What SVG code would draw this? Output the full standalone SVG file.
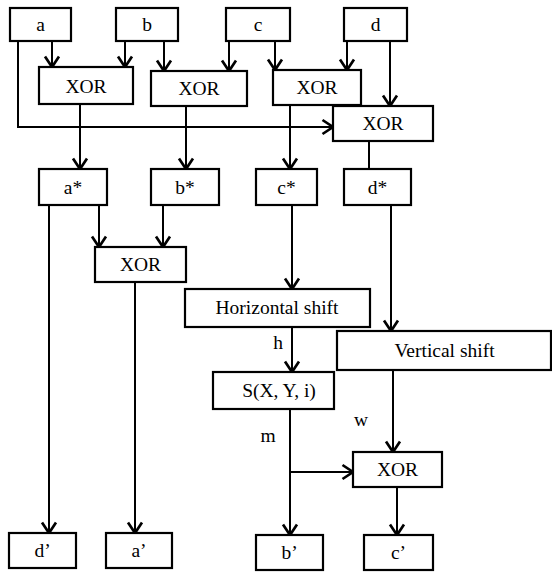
<svg xmlns="http://www.w3.org/2000/svg" width="552" height="573" viewBox="0 0 552 573">
<style>
.box{fill:#fff;stroke:#000;stroke-width:2.2}
.ln{fill:none;stroke:#000;stroke-width:2}
.t{font-family:"Liberation Serif","Times New Roman",serif;font-size:19.5px;fill:#000;text-anchor:middle}
</style>
<defs>
<marker id="ah" markerUnits="userSpaceOnUse" markerWidth="16" markerHeight="18" viewBox="-13 -9 15 18" refX="0" refY="0" orient="auto">
<path d="M-10.5,-7 L0,0 L-10.5,7" fill="none" stroke="#000" stroke-width="2.7"/>
</marker>
</defs>
<rect width="552" height="573" fill="#fff"/>
<g id="connectors">
<path class="ln" d="M52,41 V67" marker-end="url(#ah)"/>
<path class="ln" d="M125,41 V67" marker-end="url(#ah)"/>
<path class="ln" d="M164,41 V71" marker-end="url(#ah)"/>
<path class="ln" d="M229,41 V71" marker-end="url(#ah)"/>
<path class="ln" d="M275,41 V70" marker-end="url(#ah)"/>
<path class="ln" d="M347,41 V70" marker-end="url(#ah)"/>
<path class="ln" d="M390,41 V106" marker-end="url(#ah)"/>
<path class="ln" d="M18,41 V127 H333" marker-end="url(#ah)"/>
<path class="ln" d="M80,104 V169" marker-end="url(#ah)"/>
<path class="ln" d="M186,106 V169" marker-end="url(#ah)"/>
<path class="ln" d="M290,105 V169" marker-end="url(#ah)"/>
<path class="ln" d="M369,141 V169"/>
<path class="ln" d="M49,205 V533" marker-end="url(#ah)"/>
<path class="ln" d="M99,205 V247" marker-end="url(#ah)"/>
<path class="ln" d="M163,205 V247" marker-end="url(#ah)"/>
<path class="ln" d="M135,282 V533" marker-end="url(#ah)"/>
<path class="ln" d="M292,205 V289" marker-end="url(#ah)"/>
<path class="ln" d="M391,205 V331" marker-end="url(#ah)"/>
<path class="ln" d="M292,327 V372" marker-end="url(#ah)"/>
<path class="ln" d="M290,409 V535" marker-end="url(#ah)"/>
<path class="ln" d="M290,472 H353" marker-end="url(#ah)"/>
<path class="ln" d="M393,370 V452" marker-end="url(#ah)"/>
<path class="ln" d="M397,487 V535" marker-end="url(#ah)"/>
<text class="t" x="278" y="349">h</text>
<text class="t" x="268" y="442">m</text>
<text class="t" x="361" y="426">w</text>
</g>
<g id="a"><rect class="box" x="10" y="8" width="61" height="33"/><text class="t" x="40.5" y="31">a</text></g>
<g id="b"><rect class="box" x="116" y="8" width="62" height="33"/><text class="t" x="147" y="31">b</text></g>
<g id="c"><rect class="box" x="226" y="8" width="64" height="33"/><text class="t" x="258" y="31">c</text></g>
<g id="d"><rect class="box" x="344" y="8" width="63" height="33"/><text class="t" x="375.5" y="31">d</text></g>
<g id="xor1"><rect class="box" x="39" y="67" width="94" height="37"/><text class="t" x="86" y="93">XOR</text></g>
<g id="xor2"><rect class="box" x="151" y="71" width="96" height="35"/><text class="t" x="199" y="95">XOR</text></g>
<g id="xor3"><rect class="box" x="273" y="70" width="88" height="35"/><text class="t" x="317" y="94">XOR</text></g>
<g id="xor4"><rect class="box" x="333" y="106" width="100" height="35"/><text class="t" x="383" y="130">XOR</text></g>
<g id="astar"><rect class="box" x="39" y="169" width="68" height="36"/><text class="t" x="73" y="194">a*</text></g>
<g id="bstar"><rect class="box" x="151" y="169" width="68" height="36"/><text class="t" x="185" y="194">b*</text></g>
<g id="cstar"><rect class="box" x="256" y="169" width="61" height="36"/><text class="t" x="286.5" y="194">c*</text></g>
<g id="dstar"><rect class="box" x="344" y="169" width="67" height="36"/><text class="t" x="377.5" y="194">d*</text></g>
<g id="xor5"><rect class="box" x="95" y="247" width="91" height="35"/><text class="t" x="140.5" y="271">XOR</text></g>
<g id="hshift"><rect class="box" x="185" y="289" width="185" height="38"/><text class="t" x="277" y="314">Horizontal shift</text></g>
<g id="vshift"><rect class="box" x="337" y="331" width="214" height="39"/><text class="t" x="444.5" y="357">Vertical shift</text></g>
<g id="s"><rect class="box" x="213" y="372" width="121" height="37"/><text class="t" x="279" y="397">S(X, Y, i)</text></g>
<g id="xor6"><rect class="box" x="353" y="452" width="89" height="35"/><text class="t" x="397.5" y="476">XOR</text></g>
<g id="dprime"><rect class="box" x="9" y="533" width="67" height="35"/><text class="t" x="42.5" y="557">d’</text></g>
<g id="aprime"><rect class="box" x="106" y="533" width="66" height="35"/><text class="t" x="139" y="557">a’</text></g>
<g id="bprime"><rect class="box" x="256" y="535" width="67" height="35"/><text class="t" x="289.5" y="559">b’</text></g>
<g id="cprime"><rect class="box" x="364" y="535" width="69" height="35"/><text class="t" x="398.5" y="559">c’</text></g>
</svg>
